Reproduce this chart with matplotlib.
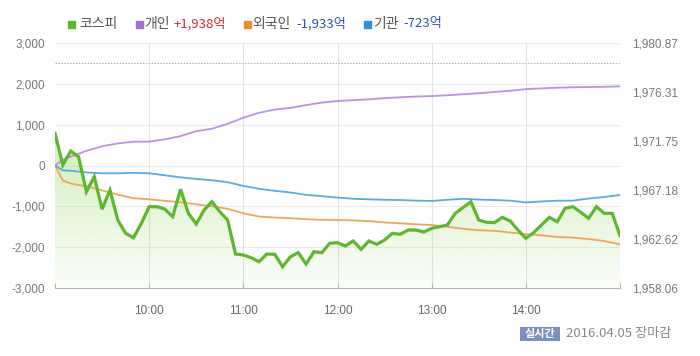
import numpy as np
import matplotlib.pyplot as plt
from matplotlib.patches import Polygon, FancyBboxPatch

plt.rcParams['font.family'] = ['Liberation Sans', 'Noto Sans CJK KR', 'DejaVu Sans']

# KOSPI index, 5-minute steps from 09:00 to 15:00
kospi_min = list(range(0, 361, 5))
kospi = [1972.46, 1969.51, 1970.81, 1970.28, 1967.03, 1968.42, 1965.41, 1967.18,
         1964.39, 1963.15, 1962.74, 1964.08, 1965.63, 1965.63, 1965.41, 1964.70,
         1967.25, 1965.01, 1964.02, 1965.32, 1966.09, 1965.16, 1964.39, 1961.23,
         1961.13, 1960.88, 1960.51, 1961.23, 1961.20, 1960.04, 1960.97, 1961.35,
         1960.29, 1961.44, 1961.35, 1962.22, 1962.28, 1961.97, 1962.44, 1961.66,
         1962.44, 1962.13, 1962.53, 1963.15, 1963.06, 1963.46, 1963.46, 1963.27,
         1963.62, 1963.77, 1963.93, 1965.01, 1965.55, 1966.09, 1964.39, 1964.18,
         1964.14, 1964.64, 1964.30, 1963.46, 1962.69, 1963.21, 1963.93, 1964.64,
         1964.23, 1965.48, 1965.63, 1965.11, 1964.55, 1965.63, 1965.01, 1965.01,
         1962.95]

# net buying (억원), minutes after 09:00
flow_min = [0, 5] + list(range(10, 361, 10))
individual = [0, 140, 215, 360, 470, 540, 583, 585, 640, 720, 840, 900, 1020, 1170,
              1290, 1370, 1410, 1480, 1540, 1580, 1600, 1620, 1650, 1670, 1690, 1700,
              1720, 1745, 1770, 1800, 1830, 1870, 1890, 1905, 1915, 1922, 1928, 1938]
foreign = [0, -370, -440, -510, -610, -715, -800, -828, -865, -900, -950, -1000,
           -1060, -1170, -1250, -1275, -1290, -1315, -1330, -1335, -1345, -1360,
           -1395, -1415, -1440, -1457, -1500, -1550, -1585, -1600, -1640, -1680,
           -1710, -1750, -1765, -1800, -1850, -1933]
institution = [0, -120, -128, -170, -190, -191, -180, -190, -240, -290, -330, -360,
               -410, -500, -570, -620, -660, -720, -750, -785, -815, -828, -840,
               -845, -860, -868, -840, -815, -835, -845, -860, -905, -880, -862,
               -860, -810, -770, -723]

left_ticks = [-3000, -2000, -1000, 0, 1000, 2000, 3000]
right_ticks = [1958.06, 1962.62, 1967.18, 1971.75, 1976.31, 1980.87]
hour_ticks = [0, 60, 120, 180, 240, 300, 360]
hour_labels = ['', '10:00', '11:00', '12:00', '13:00', '14:00', '']
prev_line = 2500

fig = plt.figure(figsize=(7, 3.56), dpi=100)
ax = fig.add_axes([55/700, 1-288/356, 565/700, 245/356])
ax2 = ax.twinx()

ax.set_xlim(0, 360)
ax.set_ylim(-3000, 3000)
ax2.set_ylim(right_ticks[0], right_ticks[-1])

# grid
for v in left_ticks[1:]:
    ax.axhline(v, color='#ebebeb', lw=0.8, zorder=0)
for h in hour_ticks[1:-1]:
    ax.axvline(h, color='#e2e2e2', lw=0.8, zorder=0)
ax.axhline(prev_line, color='#aaaaaa', lw=0.7, ls=(0, (1.5, 1.5)), zorder=1)

# gradient fill under kospi, clipped to polygon in right-axis coords
grad = np.linspace(0, 1, 256).reshape(-1, 1)
rgba = np.zeros((256, 1, 4))
rgba[..., 0] = 0x8f/255
rgba[..., 1] = 0xd4/255
rgba[..., 2] = 0x5a/255
rgba[..., 3] = 0.03 + 0.62*grad
img = ax.imshow(rgba, extent=[0, 360, -3000, 3000], origin='lower', aspect='auto', zorder=1)
poly_pts = list(zip(kospi_min, kospi)) + [(360, right_ticks[0]), (0, right_ticks[0])]
poly = Polygon(poly_pts, closed=True, transform=ax2.transData, facecolor='none', edgecolor='none')
ax2.add_patch(poly)
img.set_clip_path(poly)

ax.plot(flow_min, individual, color='#b992e0', lw=1.3, zorder=3)
ax.plot(flow_min, foreign, color='#f0a55a', lw=1.3, zorder=3)
ax.plot(flow_min, institution, color='#55aaea', lw=1.3, zorder=3)
ax2.plot(kospi_min, kospi, color='#5cb82a', lw=2.3, zorder=4, solid_joinstyle='miter')

for a in (ax, ax2):
    for s in a.spines.values():
        s.set_visible(False)
ax.spines['bottom'].set_visible(True)
ax.spines['bottom'].set_color('#b5b5b5')

ax.set_yticks(left_ticks)
ax.set_yticklabels([f'{v:,}' for v in left_ticks])
ax.tick_params(axis='y', length=0, pad=7, labelsize=8.5, labelcolor='#777777')
ax.set_xticks(hour_ticks)
ax.set_xticklabels(hour_labels)
ax.tick_params(axis='x', direction='in', length=3.5, color='#b5b5b5', pad=12,
               labelsize=8.5, labelcolor='#666666')
ax2.set_yticks(right_ticks)
ax2.set_yticklabels([f'{v:,.2f}' for v in right_ticks])
ax2.tick_params(axis='y', length=0, pad=8.5, labelsize=8.5, labelcolor='#777777')

# legend
ty = 1 - 24/356
def sq(x, c):
    fig.patches.append(plt.Rectangle((x/700, ty - 3.5/356), 7/700, 7/356,
                                     transform=fig.transFigure, color=c))
def tx(x, s, c, **kw):
    fig.text(x/700, ty, s, color=c, fontsize=kw.pop('size', 10), va='center', ha='left',
             family=['Noto Sans CJK KR', 'DejaVu Sans'], **kw)

sq(68, '#5cb82a'); tx(79, '코스피', '#555555')
sq(136, '#a66fd8'); tx(144, '개인', '#555555'); tx(174, '+1,938억', '#cc2e2e', size=9.5)
sq(244, '#f08a2a'); tx(252, '외국인', '#555555'); tx(296, '-1,933억', '#2f52b0', size=9.5)
sq(364, '#2c92e0'); tx(373, '기관', '#555555'); tx(403, '-723억', '#2f52b0', size=9.5)

# bottom-right status
badge = FancyBboxPatch((520/700, 1-341/356), 40/700, 14/356,
                       boxstyle='square,pad=0', transform=fig.transFigure,
                       facecolor='#7d90c0', edgecolor='none')
fig.patches.append(badge)
fig.text(540/700, 1-334/356, '실시간', color='white', fontsize=8, ha='center', va='center',
         family=['Noto Sans CJK KR', 'DejaVu Sans'], fontweight='bold')
fig.text(566/700, 1-334/356, '2016.04.05 장마감', color='#888888', fontsize=9.5,
         ha='left', va='center', family=['Noto Sans CJK KR', 'DejaVu Sans'])

fig.savefig('out.png', dpi=100)
